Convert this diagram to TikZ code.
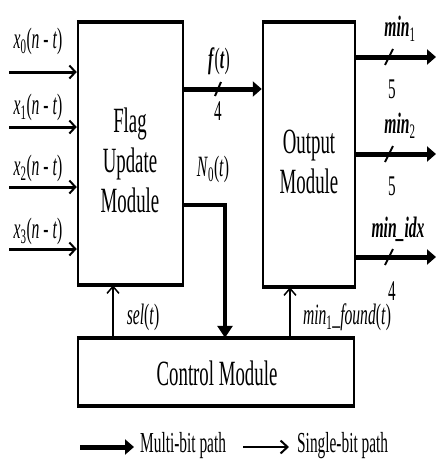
\documentclass[tikz,border=0pt]{standalone}
\usepackage{fontspec}
\setmainfont{Liberation Serif}[FakeStretch=0.53]
\usetikzlibrary{arrows.meta}
\begin{document}
\begin{tikzpicture}[x=1pt,y=-1pt,
  modbox/.style={draw,line width=2.5pt,inner sep=0pt},
  hedge/.style={line width=4pt},
  modtext/.style={font=\fontsize{35.5}{40}\selectfont,align=center,inner sep=0pt},
  lbl/.style={font=\fontsize{29.5}{30}\selectfont,inner sep=0pt},
  numlbl/.style={font=\fontsize{28.5}{30}\selectfont,inner sep=0pt},
  legtext/.style={font=\fontsize{29}{30}\selectfont,inner sep=0pt},
  single/.style={line width=3pt,-{Straight Barb[length=6pt,width=13pt,line width=2pt]}},
  singlev/.style={line width=1.8pt,-{Straight Barb[length=7pt,width=12pt,line width=1.5pt]}},
  multi/.style={line width=5pt,-{Triangle[length=9pt,width=15pt]}},
  midv/.style={line width=3.5pt,-{Triangle[length=12pt,width=15pt]}},
  slashmark/.style={line width=2pt}
]
\useasboundingbox (0,0) rectangle (436,466);

% module boxes
\node[modbox,minimum width=105pt,minimum height=261pt] (flag) at (130.5,153.5) {};
\node[modbox,minimum width=92pt,minimum height=263pt] (out) at (309,154.5) {};
\node[modbox,minimum width=276pt,minimum height=66pt] (ctrl) at (216,372) {};
\draw[hedge] (flag.north west) -- (flag.north east);
\draw[hedge] (flag.south west) -- (flag.south east);
\draw[hedge] (out.north west) -- (out.north east);
\draw[hedge] (out.south west) -- (out.south east);
\draw[hedge] (ctrl.north west) -- (ctrl.north east);
\draw[hedge] (ctrl.south west) -- (ctrl.south east);

\node[modtext] (flagtxt) at (130,160) {Flag\\Update\\Module};
\node[modtext] (outtxt) at (309,162) {Output\\Module};
\node[modtext] (ctrltxt) at (217,373) {Control Module};

% inputs
\coordinate (in0) at (9,72);
\coordinate (in1) at (9,127);
\coordinate (in2) at (9,187);
\coordinate (in3) at (9,249);
\draw[single] (in0) -- (in0 -| flag.west);
\draw[single] (in1) -- (in1 -| flag.west);
\draw[single] (in2) -- (in2 -| flag.west);
\draw[single] (in3) -- (in3 -| flag.west);
\node[lbl] (lx0) at (38,41) {\textit{x}\textsubscript{0}(\textit{n} - \textit{t})};
\node[lbl] (lx1) at (38,107) {\textit{x}\textsubscript{1}(\textit{n} - \textit{t})};
\node[lbl] (lx2) at (38,168) {\textit{x}\textsubscript{2}(\textit{n} - \textit{t})};
\node[lbl] (lx3) at (38,231) {\textit{x}\textsubscript{3}(\textit{n} - \textit{t})};

% f(t)
\coordinate (fy) at (0,89);
\draw[multi] (fy -| flag.east) -- (fy -| out.west);
\coordinate (fs) at (218,89);
\draw[slashmark] ([shift={(-3,7)}]fs) -- ([shift={(3,-7)}]fs);
\node[lbl] (lf) at (219,61) {\textbf{\textit{f}}(\textbf{\textit{t}})};
\node[numlbl] (lf4) at (218,111) {4};

% N0(t)
\coordinate (nc) at (225,205);
\draw[midv] (nc -| flag.east) -- (nc) -- (nc |- ctrl.north);
\node[lbl] (ln0) at (213,169) {\textit{N}\textsubscript{0}(\textit{t})};

% sel(t)
\coordinate (selx) at (113,0);
\draw[singlev] (selx |- ctrl.north) -- (selx |- flag.south);
\node[lbl] (lsel) at (143,317) {\textit{sel}(\textit{t})};

% min1_found(t)
\coordinate (mfx) at (290,0);
\draw[singlev] (mfx |- ctrl.north) -- (mfx |- out.south);
\node[lbl] (lmf) at (347,317) {\textit{min}\textsubscript{1}\textit{\_found}(\textit{t})};

% outputs
\coordinate (o1) at (436,57);
\coordinate (o2) at (436,154);
\coordinate (o3) at (436,257);
\draw[multi] (o1 -| out.east) -- (o1);
\draw[multi] (o2 -| out.east) -- (o2);
\draw[multi] (o3 -| out.east) -- (o3);
\coordinate (s1) at (389,57);
\coordinate (s2) at (389,154);
\coordinate (s3) at (389,257);
\draw[slashmark] ([shift={(-4,8)}]s1) -- ([shift={(4,-8)}]s1);
\draw[slashmark] ([shift={(-4,8)}]s2) -- ([shift={(4,-8)}]s2);
\draw[slashmark] ([shift={(-4,8)}]s3) -- ([shift={(4,-8)}]s3);
\node[lbl] (lm1) at (400,29) {\textbf{\textit{min}}\textsubscript{1}};
\node[numlbl] (lm15) at (392,89) {5};
\node[lbl] (lm2) at (400,126) {\textbf{\textit{min}}\textsubscript{2}};
\node[numlbl] (lm25) at (392,186) {5};
\node[lbl] (lmi) at (398,229) {\textbf{\textit{min\_idx}}};
\node[numlbl] (lmi4) at (392,291) {4};

% legend
\coordinate (la0) at (80,447);
\coordinate (la1) at (134,447);
\coordinate (lb0) at (243,447);
\coordinate (lb1) at (289,447);
\draw[multi] (la0) -- (la1);
\draw[line width=2.5pt,-{Straight Barb[length=7pt,width=13pt,line width=2pt]}] (lb0) -- (lb1);
\node[legtext,anchor=west] (lgm) at (140,446) {Multi-bit path};
\node[legtext,anchor=west] (lgs) at (297,446) {Single-bit path};
\end{tikzpicture}
\end{document}
